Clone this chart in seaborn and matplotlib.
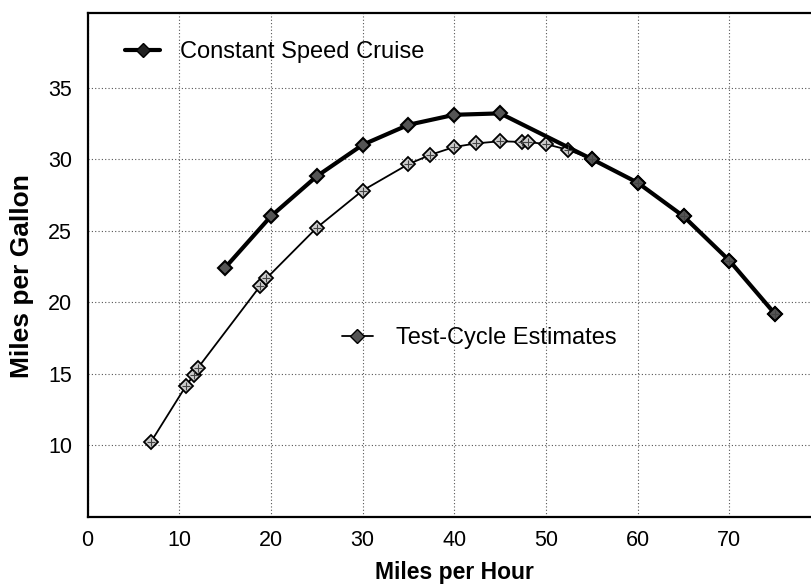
import matplotlib
matplotlib.use("Agg")
import matplotlib.pyplot as plt
from matplotlib.lines import Line2D
import seaborn as sns
import pandas as pd

# Data
cruise_mph = [15, 20, 25, 30, 35, 40, 45, 55, 60, 65, 70, 75]
cruise_mpg = [22.4, 26.0, 28.8, 31.0, 32.4, 33.1, 33.2, 30.0, 28.35, 26.0, 22.9, 19.15]

test_mph = [6.9, 10.7, 11.6, 12.05, 18.8, 19.5, 25, 30, 35, 37.4, 40, 42.4, 45, 47.4, 48.0,
            50, 52.4, 55, 60, 65, 70, 75]
test_mpg = [10.2, 14.1, 14.9, 15.4, 21.1, 21.65, 25.2, 27.8, 29.65, 30.3, 30.85, 31.1, 31.25,
            31.2, 31.2, 31.05, 30.65, 30.0, 28.35, 26.0, 22.9, 19.15]

x_ticks = [0, 10, 20, 30, 40, 50, 60, 70]
y_ticks = [10, 15, 20, 25, 30, 35]

cruise_label = "Constant Speed Cruise"
test_label = "Test-Cycle Estimates"

sns.set_theme(style="white")
plt.rcParams['font.family'] = ['Liberation Sans', 'DejaVu Sans']
plt.rcParams['text.color'] = 'black'
plt.rcParams['axes.labelcolor'] = 'black'

W, H = 811, 585
left_px, right_px, top_px, bottom_px = 87.5, 811, 13.3, 516.5
fig = plt.figure(figsize=(W / 100, H / 100), dpi=100)
ax = fig.add_axes([left_px / W, 1 - bottom_px / H, (right_px - left_px) / W,
                   (bottom_px - top_px) / H])

df_c = pd.DataFrame({"mph": cruise_mph, "mpg": cruise_mpg})
df_t = pd.DataFrame({"mph": test_mph, "mpg": test_mpg})

sns.lineplot(data=df_t, x="mph", y="mpg", ax=ax, color="black", linewidth=1.3,
             marker="D", markersize=7, markerfacecolor="#cccccc", markeredgecolor="black",
             markeredgewidth=1.3, sort=False, zorder=3)
sns.lineplot(data=df_c, x="mph", y="mpg", ax=ax, color="black", linewidth=3,
             marker="D", markersize=7, markerfacecolor="#555555", markeredgecolor="black",
             markeredgewidth=1.5, sort=False, zorder=4)
ax.plot(df_t["mph"], df_t["mpg"], linestyle="none", marker="+", markersize=6,
        color="#444444", markeredgewidth=0.8, zorder=5)

ax.set_xlim(0, 78.9)
ax.set_ylim(5, 40.2)
ax.set_xticks(x_ticks)
ax.set_yticks(y_ticks)
ax.tick_params(axis="x", length=0, labelsize=15.5, colors="black", pad=10)
ax.tick_params(axis="y", length=0, labelsize=15.5, colors="black", pad=11)
ax.grid(True, linestyle=(0, (1, 2)), color="#555555", linewidth=0.8)

for s in ["top", "bottom", "left"]:
    ax.spines[s].set_visible(True)
    ax.spines[s].set_color("black")
    ax.spines[s].set_linewidth(1.6)
ax.spines["right"].set_visible(False)

ax.set_xlabel("Miles per Hour", fontsize=16.5, fontweight="bold", color="black")
ax.set_ylabel("Miles per Gallon", fontsize=19, fontweight="bold", color="black")
ax.xaxis.set_label_coords(0.5 * (372 + 537) / W, 1 - 572 / H, transform=fig.transFigure)
ax.yaxis.set_label_coords(22 / W, 1 - 276 / H, transform=fig.transFigure)
ax.xaxis.label.set_va("center")
ax.yaxis.label.set_va("center")

h_c = Line2D([], [], color="black", linewidth=3, marker="D", markersize=7,
             markerfacecolor="#222222", markeredgecolor="black")
h_t = Line2D([], [], color="black", linewidth=1.3, marker="D", markersize=7,
             markerfacecolor="#555555", markeredgecolor="black")

leg1 = ax.legend([h_c], [cruise_label], loc="center left",
                 bbox_to_anchor=(125 / W, 1 - 52 / H), bbox_transform=fig.transFigure,
                 frameon=False, fontsize=17, handlelength=1.5, handletextpad=0.85,
                 borderpad=0, borderaxespad=0, labelcolor="black")
ax.add_artist(leg1)
ax.legend([h_t], [test_label], loc="center left",
          bbox_to_anchor=(342 / W, 1 - 338 / H), bbox_transform=fig.transFigure,
          frameon=False, fontsize=17, handlelength=1.3, handletextpad=1.0,
          borderpad=0, borderaxespad=0, labelcolor="black")

fig.savefig("out.png", dpi=100)
